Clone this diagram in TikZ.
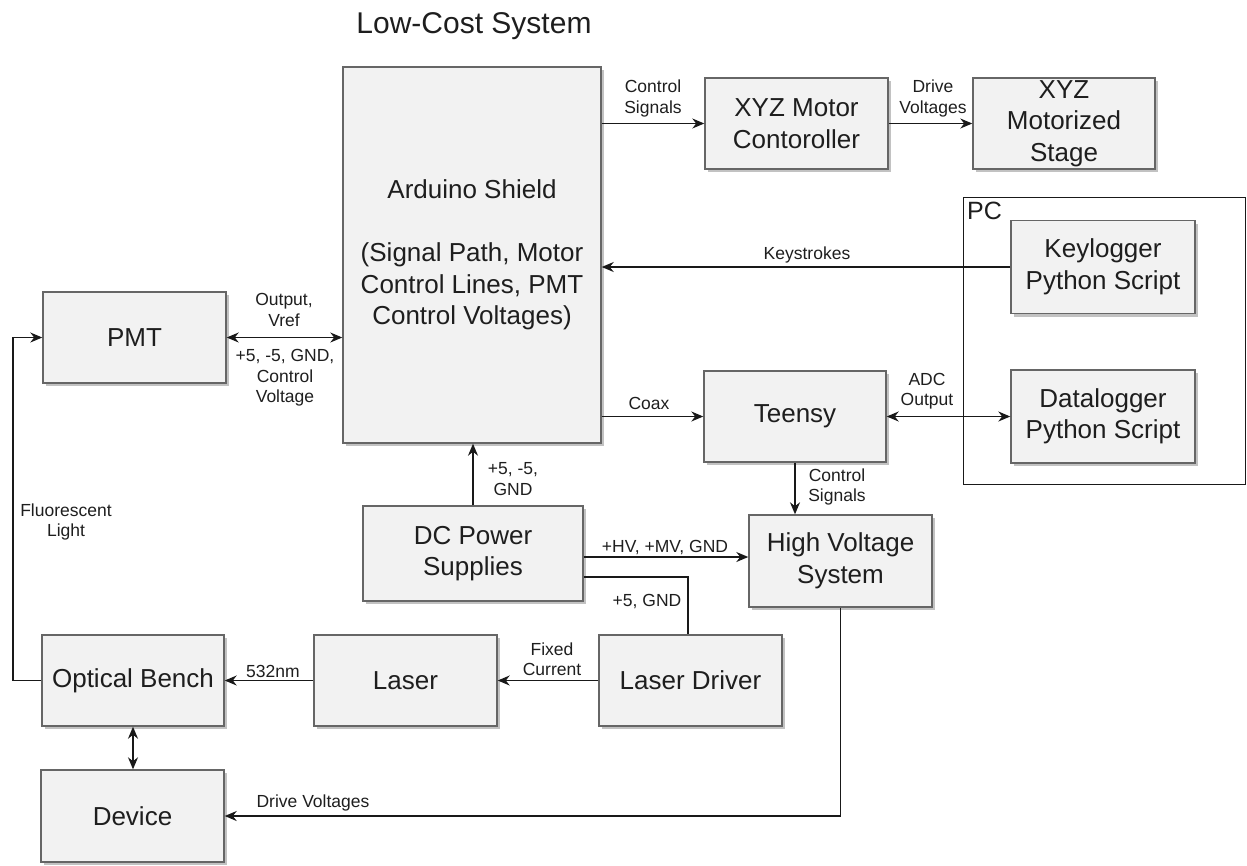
\documentclass[tikz,border=0pt]{standalone}
\usepackage{fontspec}
\setmainfont{Liberation Sans}
\usetikzlibrary{arrows.meta,shadows}
\definecolor{boxfill}{HTML}{F2F2F2}
\definecolor{boxline}{HTML}{666666}
\definecolor{txt}{HTML}{1E1E1E}
\tikzset{
  blk/.style={draw=boxline, fill=boxfill, line width=1.4pt, inner sep=0pt,
    align=center, text=txt, font=\fontsize{26}{31.5}\selectfont,
    drop shadow={shadow xshift=3pt, shadow yshift=-3pt, fill=black!40, opacity=0.6}},
  lbl/.style={align=center, text=txt, font=\fontsize{17.5}{20.5}\selectfont, inner sep=0pt},
  conn/.style={draw=black!90, line width=1.4pt},
  arr/.style={conn, -{Stealth[length=12pt,width=10pt]}},
  darr/.style={conn, {Stealth[length=12pt,width=10pt]}-{Stealth[length=12pt,width=10pt]}}
}
\begin{document}
\begin{tikzpicture}[x=1pt,y=-1pt]
\useasboundingbox (0,0) rectangle (1247,865);
% title
\node[text=txt, font=\fontsize{30}{36}\selectfont, inner sep=0pt] (title) at (474,26) {Low-Cost System};
% PC container
\node[draw=black!90, line width=1.4pt, minimum width=282pt, minimum height=287pt, inner sep=0pt, anchor=north west] (pc) at (963,197) {};
\node[text=txt, font=\fontsize{25}{30}\selectfont, inner sep=0pt, anchor=north west] (pclbl) at (967,202) {PC};
% boxes
\node[blk, minimum width=258pt, minimum height=376pt] (ard) at (472,255)
  {Arduino Shield\\~\\(Signal Path, Motor\\Control Lines, PMT\\Control Voltages)};
\node[blk, minimum width=183pt, minimum height=91pt] (xyz) at (796.5,123.5) {XYZ Motor\\Contoroller};
\node[blk, minimum width=182pt, minimum height=91pt] (stage) at (1064,123.5) {XYZ\\Motorized\\Stage};
\node[blk, minimum width=184pt, minimum height=93pt] (keylog) at (1103,267) {Keylogger\\Python Script};
\node[blk, minimum width=184pt, minimum height=93pt] (datalog) at (1103,416.5) {Datalogger\\Python Script};
\node[blk, minimum width=183pt, minimum height=91pt] (pmt) at (134.5,337.5) {PMT};
\node[blk, minimum width=182pt, minimum height=91pt] (teensy) at (795,416.5) {Teensy};
\node[blk, minimum width=220pt, minimum height=95pt] (dc) at (473,553.5) {DC Power\\Supplies};
\node[blk, minimum width=183pt, minimum height=92pt] (hv) at (840.5,561) {High Voltage\\System};
\node[blk, minimum width=182pt, minimum height=91pt] (optical) at (133,680.5) {Optical Bench};
\node[blk, minimum width=183pt, minimum height=91pt] (laser) at (405.5,680.5) {Laser};
\node[blk, minimum width=183pt, minimum height=91pt] (ldriver) at (690.5,680.5) {Laser Driver};
\node[blk, minimum width=183pt, minimum height=92pt] (device) at (132.5,816) {Device};
% helper coordinates
\coordinate (hvy) at (0,557);
\coordinate (ldy) at (688,577);
\coordinate (flx) at (13,0);
% connectors
\draw[arr] (ard.east |- xyz.west) -- (xyz.west);
\draw[arr] (xyz.east) -- (stage.west);
\draw[arr] (keylog.west) -- (ard.east |- keylog.west);
\draw[darr] (pmt.east) -- (ard.west |- pmt.east);
\draw[arr] (ard.east |- teensy.west) -- (teensy.west);
\draw[darr] (teensy.east) -- (datalog.west);
\draw[arr] (teensy.south) -- (teensy.south |- hv.north);
\draw[arr] (dc.north) -- (dc.north |- ard.south);
\draw[arr] (dc.east |- hvy) -- (hv.west |- hvy);
\draw[conn] (dc.east |- ldy) -- (ldy) -- (ldy |- ldriver.north);
\draw[arr] (ldriver.west) -- (laser.east);
\draw[arr] (laser.west) -- (optical.east);
\draw[darr] (optical.south) -- (optical.south |- device.north);
\draw[arr] (optical.west) -- (optical.west -| flx) -- (pmt.west -| flx) -- (pmt.west);
\draw[arr] (hv.south) |- (device.east);
% labels
\node[lbl] (l1) at (653,98.5) {Control\\Signals};
\node[lbl] (l2) at (933,98.5) {Drive\\Voltages};
\node[lbl] (l3) at (807,255) {Keystrokes};
\node[lbl] (l4) at (284,310) {Output,\\Vref};
\node[lbl] (l5) at (285,378) {+5, -5, GND,\\Control\\Voltage};
\node[lbl] (l6) at (66,522) {Fluorescent\\Light};
\node[lbl] (l7) at (649,403) {Coax};
\node[lbl] (l8) at (927,391) {ADC\\Output};
\node[lbl] (l9) at (837,487) {Control\\Signals};
\node[lbl] (l10) at (513,479) {+5, -5,\\GND};
\node[lbl] (l11) at (665,548) {+HV, +MV, GND};
\node[lbl] (l12) at (647,601) {+5, GND};
\node[lbl] (l13) at (552,659) {Fixed\\Current};
\node[lbl] (l14) at (273,671) {532nm};
\node[lbl] (l15) at (313,803) {Drive Voltages};
\end{tikzpicture}
\end{document}
